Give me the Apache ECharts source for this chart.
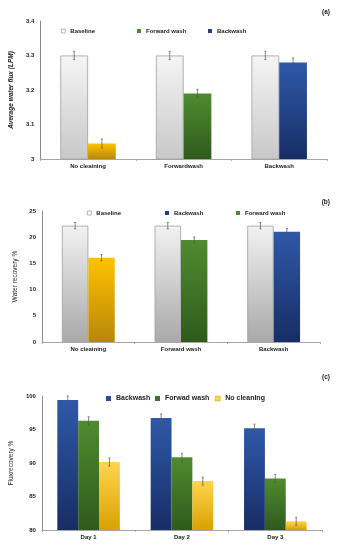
<!DOCTYPE html>
<html><head><meta charset="utf-8">
<script src="https://cdn.jsdelivr.net/npm/echarts@6/dist/echarts.min.js"></script>
<style>
html,body{margin:0;padding:0;background:#fff;width:339px;height:550px;overflow:hidden}
.c{position:absolute;left:0;width:339px}
</style></head><body>
<div id="a" class="c" style="top:0;height:180px"></div>
<div id="b" class="c" style="top:180px;height:185px"></div>
<div id="cc" class="c" style="top:365px;height:185px"></div>
<script>
// ---- data ----
const catsA = ['No cleaining', 'Forwardwash', 'Backwash'];
const baselineA = [3.30, 3.30, 3.30];
const treatA = [3.045, 3.19, 3.28];
const errBaselineA = [0.012, 0.012, 0.012];
const errTreatA = [0.013, 0.012, 0.013];
const yTicksA = {min: 3, max: 3.4, interval: 0.1};

const catsB = ['No cleaining', 'Forward wash', 'Backwash'];
const baselineB = [22.2, 22.2, 22.2];
const treatB = [16.1, 19.45, 21.05];
const errBaselineB = [0.6, 0.6, 0.6];
const errTreatB = [0.6, 0.6, 0.6];
const yTicksB = {min: 0, max: 25, interval: 5};

const catsC = ['Day 1', 'Day 2', 'Day 3'];
const backwashC = [99.4, 96.7, 95.2];
const forwardC = [96.3, 90.85, 87.7];
const noCleanC = [90.15, 87.3, 81.3];
const errBackwashC = [0.6, 0.6, 0.6];
const errForwardC = [0.6, 0.6, 0.6];
const errNoCleanC = [0.6, 0.6, 0.6];
const yTicksC = {min: 80, max: 100, interval: 5};

// ---- styles ----
const FONT = 'Liberation Sans';
function grad(top, bottom){
  return new echarts.graphic.LinearGradient(0,0,0,1,[{offset:0,color:top},{offset:1,color:bottom}]);
}
const greyA = () => grad('#f5f5f5', '#c8c8c8');
const greyB = () => grad('#f2f2f2', '#a9a9a9');
const yellowAB = () => grad('#ffc300', '#b8860a');
const yellowC = () => grad('#ffd54f', '#d9a100');
const green = () => grad('#4f8b2f', '#2f5a1c');
const blue = () => grad('#2f58a8', '#172d66');

function errSeries(vals, errs, k, n, gap){
  return {
    type: 'custom',
    silent: true,
    z: 10,
    data: vals.map((v,i)=>[i, v, errs[i]]),
    renderItem: function(params, api){
      const ci = api.value(0), v = api.value(1), e = api.value(2);
      const c = api.coord([ci, v]);
      const bw = api.size([1,0])[0];
      const used = bw*(1-gap);
      const barW = used/n;
      const x = c[0] - used/2 + barW*(k+0.5);
      const t = api.coord([ci, v+e])[1];
      const b = api.coord([ci, v-e])[1];
      const st = {stroke:'#555', lineWidth:0.7};
      return {type:'group', children:[
        {type:'line', shape:{x1:x,y1:t,x2:x,y2:b}, style:st},
        {type:'line', shape:{x1:x-1,y1:t,x2:x+1,y2:t}, style:st},
        {type:'line', shape:{x1:x-1,y1:b,x2:x+1,y2:b}, style:st}
      ]};
    }
  };
}

function xAxis(cats){
  return {
    type:'category', data:cats,
    axisLine:{lineStyle:{color:'#a6a6a6', width:1}},
    axisTick:{show:true, length:2, lineStyle:{color:'#a6a6a6'}},
    axisLabel:{fontFamily:FONT, fontSize:6, fontWeight:'bold', color:'#222', margin:4}
  };
}
function yAxis(t, name, nameStyle, gap){
  return {
    type:'value', min:t.min, max:t.max, interval:t.interval,
    name:name, nameLocation:'middle', nameGap:gap, nameRotate:90,
    nameTextStyle:Object.assign({fontFamily:FONT, fontSize:6.5, color:'#222'}, nameStyle),
    axisLine:{show:true, lineStyle:{color:'#8c8c8c', width:1}},
    axisTick:{show:false},
    splitLine:{show:false},
    axisLabel:{fontFamily:FONT, fontSize:6, fontWeight:'bold', color:'#222', margin:6}
  };
}
function legendItem(name, left, top, iconStyle, size, fs){
  return {
    data:[{name:name, itemStyle:iconStyle}],
    left:left, top:top, icon:'rect', itemWidth:size, itemHeight:size, itemGap:4,
    selectedMode:false,
    textStyle:{fontFamily:FONT, fontSize:fs, fontWeight:'bold', color:'#222'}
  };
}
function panelTitle(txt, top){
  return {text:txt, right:4, top:top, textStyle:{fontFamily:FONT, fontSize:6.5, fontWeight:'bold', color:'#222'}};
}
const baseIcon = {color:'#fafafa', borderColor:'#8c8c8c', borderWidth:0.6};

// ---- panel (a) ----
const gapA = 0.42;
const chartA = echarts.init(document.getElementById('a'), null, {renderer:'canvas'});
chartA.setOption({
  animation:false,
  title: panelTitle('(a)', 4),
  grid:{left:35, right:12, top:21, bottom:21},
  xAxis: xAxis(catsA),
  yAxis: yAxis(yTicksA, 'Average water flux (LPM)', {fontWeight:'bold', fontStyle:'italic'}, 24),
  legend:[
    legendItem('Baseline', 56, 23, baseIcon, 4, 6),
    legendItem('Forward wash', 132, 23, {color:'#4f8b2f'}, 4, 6),
    legendItem('Backwash', 203, 23, {color:'#1f3f88'}, 4, 6)
  ],
  series:[
    {name:'Baseline', type:'bar', barGap:0, barCategoryGap:(gapA*100)+'%',
     itemStyle:{color:greyA(), borderColor:'#a0a0a0', borderWidth:0.8}, data:baselineA},
    {name:'Treatment', type:'bar', barGap:0, barCategoryGap:(gapA*100)+'%',
     data: treatA.map((v,i)=>({value:v, itemStyle:{color:[yellowAB,green,blue][i]()}}))},
    {name:'Forward wash', type:'line', data:[], color:'#4f8b2f'},
    {name:'Backwash', type:'line', data:[], color:'#1f3f88'},
    errSeries(baselineA, errBaselineA, 0, 2, gapA),
    errSeries(treatA, errTreatA, 1, 2, gapA)
  ]
});

// ---- panel (b) ----
const gapB = 0.43;
const chartB = echarts.init(document.getElementById('b'), null, {renderer:'canvas'});
chartB.setOption({
  animation:false,
  title: panelTitle('(b)', 14),
  grid:{left:42, right:19, top:31, bottom:23},
  xAxis: xAxis(catsB),
  yAxis: yAxis(yTicksB, 'Water recovery %', {fontWeight:'normal'}, 21),
  legend:[
    legendItem('Baseline', 82, 25, baseIcon, 4, 6),
    legendItem('Backwash', 160, 25, {color:'#1f3f88'}, 4, 6),
    legendItem('Forward wash', 231, 25, {color:'#4f8b2f'}, 4, 6)
  ],
  series:[
    {name:'Baseline', type:'bar', barGap:0, barCategoryGap:(gapB*100)+'%',
     itemStyle:{color:greyB(), borderColor:'#a0a0a0', borderWidth:0.8}, data:baselineB},
    {name:'Treatment', type:'bar', barGap:0, barCategoryGap:(gapB*100)+'%',
     data: treatB.map((v,i)=>({value:v, itemStyle:{color:[yellowAB,green,blue][i]()}}))},
    {name:'Backwash', type:'line', data:[], color:'#1f3f88'},
    {name:'Forward wash', type:'line', data:[], color:'#4f8b2f'},
    errSeries(baselineB, errBaselineB, 0, 2, gapB),
    errSeries(treatB, errTreatB, 1, 2, gapB)
  ]
});

// ---- panel (c) ----
const gapC = 0.33;
const chartC = echarts.init(document.getElementById('cc'), null, {renderer:'canvas'});
chartC.setOption({
  animation:false,
  title: panelTitle('(c)', 4),
  grid:{left:40, right:17, top:31, bottom:20},
  xAxis: xAxis(catsC),
  yAxis: yAxis(yTicksC, 'Fluxrecovery %', {fontWeight:'normal'}, 24),
  legend:[
    legendItem('Backwash', 101, 25, {color:'#264c9a'}, 5, 7),
    legendItem('Forwad wash', 150, 25, {color:'#3f7526'}, 5, 7),
    legendItem('No cleaning', 210, 25, {color:'#ffd54f', borderColor:'#c9a000', borderWidth:0.5}, 5, 7)
  ],
  series:[
    {name:'Backwash', type:'bar', barGap:0, barCategoryGap:(gapC*100)+'%',
     itemStyle:{color:blue()}, data:backwashC},
    {name:'Forwad wash', type:'bar', barGap:0, barCategoryGap:(gapC*100)+'%',
     itemStyle:{color:green()}, data:forwardC},
    {name:'No cleaning', type:'bar', barGap:0, barCategoryGap:(gapC*100)+'%',
     itemStyle:{color:yellowC()}, data:noCleanC},
    errSeries(backwashC, errBackwashC, 0, 3, gapC),
    errSeries(forwardC, errForwardC, 1, 3, gapC),
    errSeries(noCleanC, errNoCleanC, 2, 3, gapC)
  ]
});
</script>
</body></html>
